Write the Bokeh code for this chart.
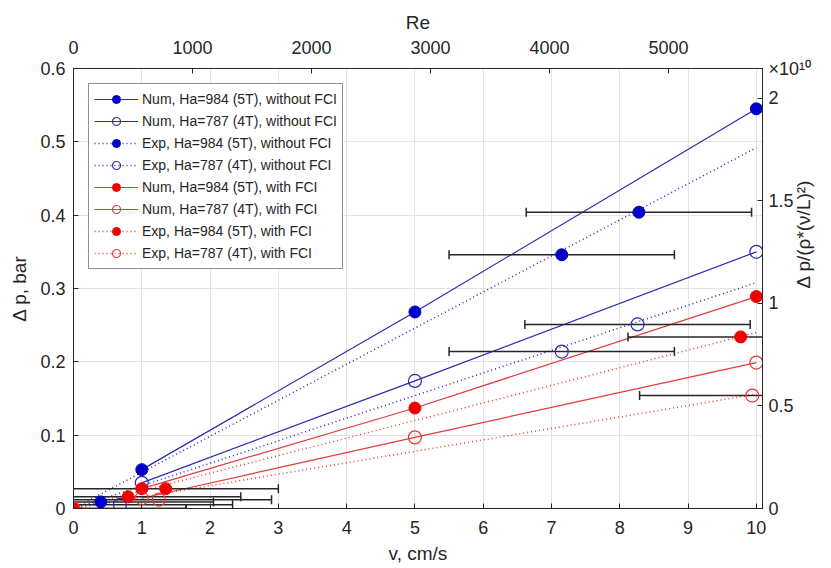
import math
from bokeh.plotting import figure
from bokeh.models import (Range1d, LinearAxis, FixedTicker, PrintfTickFormatter,
                          Legend, LegendItem)
from bokeh.embed import file_html
from bokeh.resources import INLINE

# ---------------- data ----------------
v_num = [1, 5, 10]
num_5T_noFCI = [0.053, 0.268, 0.545]
num_4T_noFCI = [0.035, 0.174, 0.350]
num_5T_FCI = [0.027, 0.137, 0.289]
num_4T_FCI = [0.014, 0.097, 0.199]

exp_5T_noFCI_v = [0.40, 7.15, 8.28]
exp_5T_noFCI = [0.009, 0.346, 0.404]
exp_4T_noFCI_v = [0.68, 7.15, 8.26]
exp_4T_noFCI = [0.005, 0.214, 0.251]
exp_5T_FCI_v = [0.0, 0.80, 1.35, 9.77]
exp_5T_FCI = [0.0, 0.016, 0.027, 0.234]
exp_4T_FCI_v = [0.0, 1.25, 9.94]
exp_4T_FCI = [0.0, 0.012, 0.154]
v_err = 1.65

fit_v = [0, 10]
fit_5T_noFCI = [0, 0.492]
fit_4T_noFCI = [0, 0.308]
fit_5T_FCI = [0, 0.240]
fit_4T_FCI = [0, 0.156]

x_ticks = [0, 1, 2, 3, 4, 5, 6, 7, 8, 9, 10]
y_ticks = [0, 0.1, 0.2, 0.3, 0.4, 0.5, 0.6]
re_ticks = [0, 1000, 2000, 3000, 4000, 5000]
nd_ticks = [0, 0.5, 1, 1.5, 2]
ND_MAX = 2.145
nd_exponent = "\u00d710\u00b9\u2070"

labels = ["Num, Ha=984 (5T), without FCI", "Num, Ha=787 (4T), without FCI",
          "Exp, Ha=984 (5T), without FCI", "Exp, Ha=787 (4T), without FCI",
          "Num, Ha=984 (5T), with FCI", "Num, Ha=787 (4T), with FCI",
          "Exp, Ha=984 (5T), with FCI", "Exp, Ha=787 (4T), with FCI"]

# ---------------- style ----------------
FONT = "Liberation Sans"
TXT = "#262626"
BLUE = "#0000C8"
BLUE_L = "#2a2ab4"
RED = "#F00000"
RED_L = "#E63a3a"

XMAX = 10.09
p = figure(width=831, height=568, x_range=Range1d(0, XMAX), y_range=Range1d(0, 0.6),
           output_backend="svg", toolbar_location=None,
           min_border_left=73, min_border_right=69, min_border_top=68, min_border_bottom=60)
p.background_fill_color = "white"
p.border_fill_color = "white"
p.outline_line_color = TXT
p.extra_x_ranges = {"re": Range1d(0, 5790)}
p.extra_y_ranges = {"nd": Range1d(0, ND_MAX)}


def style_axis(ax, standoff, lab_standoff):
    ax.axis_line_color = TXT
    ax.major_tick_in = 5
    ax.major_tick_out = 0
    ax.major_tick_line_color = TXT
    ax.minor_tick_line_color = None
    ax.major_label_text_font = FONT
    ax.major_label_text_font_size = "18px"
    ax.major_label_text_color = TXT
    ax.major_label_standoff = standoff
    ax.axis_label_text_font = FONT
    ax.axis_label_text_font_size = "19px"
    ax.axis_label_text_font_style = "normal"
    ax.axis_label_text_color = TXT
    ax.axis_label_standoff = lab_standoff


p.xaxis.ticker = FixedTicker(ticks=x_ticks)
p.yaxis.ticker = FixedTicker(ticks=y_ticks)
p.yaxis.formatter = PrintfTickFormatter(format="%g")
p.xaxis.axis_label = "v, cm/s"
p.yaxis.axis_label = "\u0394 p, bar"
style_axis(p.xaxis[0], 12, 6)
style_axis(p.yaxis[0], 8, 7)

top = LinearAxis(x_range_name="re", ticker=FixedTicker(ticks=re_ticks), axis_label="Re")
style_axis(top, 15, 5)
p.add_layout(top, "above")

right = LinearAxis(y_range_name="nd", ticker=FixedTicker(ticks=nd_ticks + [ND_MAX]),
                   formatter=PrintfTickFormatter(format="%g"),
                   axis_label="\u0394 p/(\u03c1*(\u03bd/L)\u00b2)")
right.major_label_overrides = {ND_MAX: nd_exponent}
style_axis(right, 6, -11)
try:
    right.axis_label_orientation = math.pi / 2
except Exception:
    pass
p.add_layout(right, "right")

p.xgrid.grid_line_color = "#e3e3e3"
p.ygrid.grid_line_color = "#e3e3e3"

# ---------------- lines ----------------
r_num = []
for vals, col in [(num_5T_noFCI, BLUE_L), (num_4T_noFCI, BLUE_L),
                  (num_5T_FCI, RED_L), (num_4T_FCI, RED_L)]:
    r_num.append(p.line(v_num, vals, line_color=col, line_width=1.2))

r_fit = []
for vals, col in [(fit_5T_noFCI, BLUE_L), (fit_4T_noFCI, BLUE_L),
                  (fit_5T_FCI, RED_L), (fit_4T_FCI, RED_L)]:
    r_fit.append(p.line(fit_v, vals, line_color=col, line_width=1.5, line_dash="1 3"))

# ---------------- error bars ----------------
for vs, ds in [(exp_5T_noFCI_v, exp_5T_noFCI), (exp_4T_noFCI_v, exp_4T_noFCI),
               (exp_5T_FCI_v, exp_5T_FCI), (exp_4T_FCI_v, exp_4T_FCI)]:
    lo = [v - v_err for v in vs]
    hi = [v + v_err for v in vs]
    p.segment(x0=lo, y0=ds, x1=hi, y1=ds, line_color=TXT, line_width=1.5)
    p.scatter(lo, ds, marker="dash", angle=math.pi / 2, size=9, line_color=TXT, line_width=1.5)
    p.scatter(hi, ds, marker="dash", angle=math.pi / 2, size=9, line_color=TXT, line_width=1.5)


# ---------------- markers ----------------
def filled(x, y, col):
    return p.scatter(x, y, marker="circle", size=12, fill_color=col, line_color=col, line_width=1)


def hollow(x, y, col):
    return p.scatter(x, y, marker="circle", size=13, fill_alpha=0, line_color=col, line_width=1.2)


m = [
    filled(v_num, num_5T_noFCI, BLUE),
    hollow(v_num, num_4T_noFCI, BLUE_L),
    filled(exp_5T_noFCI_v, exp_5T_noFCI, BLUE),
    hollow(exp_4T_noFCI_v, exp_4T_noFCI, BLUE_L),
    filled(v_num, num_5T_FCI, RED),
    hollow(v_num, num_4T_FCI, RED_L),
    filled(exp_5T_FCI_v, exp_5T_FCI, RED),
    hollow(exp_4T_FCI_v, exp_4T_FCI, RED_L),
]
line_for = [r_num[0], r_num[1], r_fit[0], r_fit[1], r_num[2], r_num[3], r_fit[2], r_fit[3]]

items = [LegendItem(label=labels[i], renderers=[line_for[i], m[i]]) for i in range(8)]
legend = Legend(items=items, location="top_left")
legend.margin = 15
legend.border_line_color = TXT
legend.border_line_width = 1
legend.background_fill_color = "white"
legend.background_fill_alpha = 1
legend.label_text_font = FONT
legend.label_text_font_size = "14px"
legend.label_text_color = TXT
legend.glyph_width = 44
legend.glyph_height = 20
legend.label_height = 20
legend.spacing = 2
legend.padding = 5
legend.label_standoff = 4
p.add_layout(legend)

open("out.html", "w").write(file_html(p, INLINE))
